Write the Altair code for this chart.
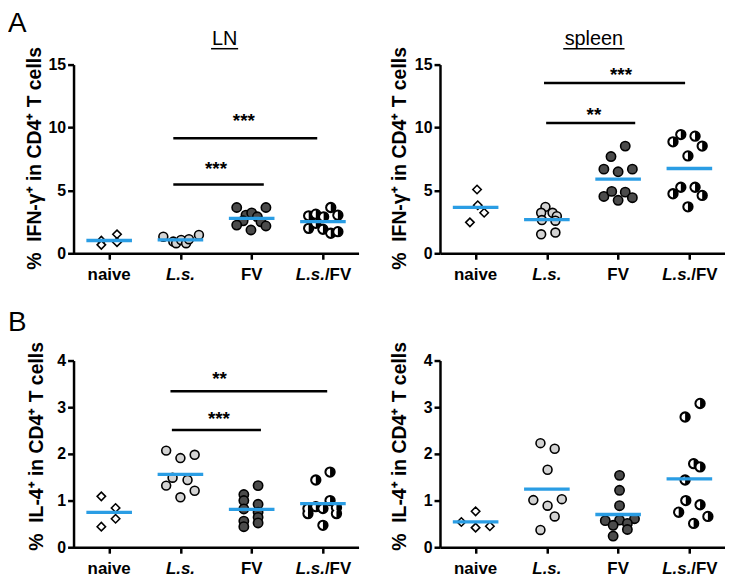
import altair as alt
import pandas as pd

FONT = "Liberation Sans"
BLUE = "#2a9de4"
GROUPS = ["naive", "L.s.", "FV", "L.s./FV"]
FILLS = ["white", "#d3d3d3", "#4b4b4b", "black"]
SHAPES = ["diamond", "circle", "circle", "circle"]
SIZES = [72, 96, 96, 96]

# ---- Panel A, LN: % IFN-g+ ----
A_LN_NAIVE = [1.00, 0.67, 1.51, 0.88]
A_LN_NAIVE_DX = [-0.11, -0.11, 0.11, 0.11]
A_LN_LS = [1.32, 0.93, 0.80, 1.06, 0.80, 1.12, 1.46]
A_LN_LS_DX = [-0.24, -0.10, -0.06, 0.01, 0.08, 0.12, 0.26]
A_LN_FV = [3.64, 3.64, 3.03, 3.21, 2.90, 2.58, 2.50, 2.24, 1.85, 2.17]
A_LN_FV_DX = [-0.21, 0.20, -0.08, 0.00, 0.08, -0.12, 0.13, -0.21, -0.01, 0.20]
A_LN_LSFV = [2.98, 3.11, 3.64, 3.03, 2.90, 1.98, 1.91, 1.59, 1.72, 2.38]
A_LN_LSFV_DX = [-0.20, -0.10, 0.11, 0.21, 0.01, -0.20, 0.00, 0.11, 0.21, -0.10]

# ---- Panel A, spleen ----
A_SP_NAIVE = [5.07, 3.82, 3.22, 2.46]
A_SP_NAIVE_DX = [0.02, 0.03, 0.12, -0.08]
A_SP_LS = [3.69, 3.22, 3.22, 2.95, 2.64, 2.59, 1.51, 1.65]
A_SP_LS_DX = [-0.02, -0.08, 0.08, 0.14, -0.07, 0.12, -0.08, 0.12]
A_SP_FV = [8.52, 7.69, 6.69, 6.48, 6.69, 4.52, 4.92, 4.21, 4.86, 4.42]
A_SP_FV_DX = [0.10, -0.10, -0.20, 0.00, 0.20, -0.20, -0.09, 0.00, 0.10, 0.20]
A_SP_LSFV = [8.86, 9.44, 9.31, 8.52, 7.74, 4.73, 5.25, 5.25, 4.60, 3.69]
A_SP_LSFV_DX = [-0.23, -0.12, 0.08, 0.18, -0.02, -0.23, -0.12, 0.08, 0.18, -0.02]

# ---- Panel B, LN: % IL-4+ ----
B_LN_NAIVE = [1.09, 0.84, 0.61, 0.44]
B_LN_NAIVE_DX = [-0.11, 0.09, 0.09, -0.11]
B_LN_LS = [2.07, 1.91, 1.98, 1.49, 1.44, 1.32, 1.21, 1.07]
B_LN_LS_DX = [-0.20, 0.00, 0.20, -0.11, 0.10, -0.20, 0.20, 0.00]
B_LN_FV = [1.13, 1.00, 0.82, 0.56, 0.44, 1.32, 0.92, 0.75, 0.64, 0.52]
B_LN_FV_DX = [-0.11, -0.11, -0.11, -0.11, -0.11, 0.09, 0.09, 0.09, 0.09, 0.09]
B_LN_LSFV = [1.44, 1.61, 0.83, 0.87, 0.83, 1.00, 0.85, 0.72, 0.72, 0.47]
B_LN_LSFV_DX = [-0.10, 0.10, -0.21, -0.10, 0.00, 0.10, 0.19, -0.21, 0.19, 0.00]

# ---- Panel B, spleen ----
B_SP_NAIVE = [0.54, 0.77, 0.42, 0.45]
B_SP_NAIVE_DX = [-0.20, 0.00, 0.00, 0.20]
B_SP_LS = [2.23, 2.11, 1.66, 1.01, 1.03, 0.89, 0.66, 0.37]
B_SP_LS_DX = [-0.09, 0.11, 0.01, -0.19, 0.21, 0.01, 0.11, -0.09]
B_SP_FV = [1.54, 1.22, 0.89, 0.57, 0.58, 0.61, 0.47, 0.51, 0.38, 0.24]
B_SP_FV_DX = [0.02, 0.02, 0.02, -0.18, 0.02, 0.23, -0.07, 0.13, 0.13, -0.07]
B_SP_LSFV = [3.08, 2.79, 1.79, 1.72, 1.44, 1.00, 0.91, 0.75, 0.66, 0.51]
B_SP_LSFV_DX = [0.15, -0.06, 0.06, 0.15, -0.06, -0.05, 0.15, -0.15, 0.26, 0.06]

# ---- significance bars: start, end (group index units), height, star text, star x, star y ----
A_LN_BARS = dict(x1=[0.90, 0.90], x2=[2.17, 2.92], y=[5.47, 9.15],
                 t=["***", "***"], tx=[1.50, 1.89], ty=[7.1, 10.9])
A_SP_BARS = dict(x1=[0.99, 0.96], x2=[2.24, 2.94], y=[10.35, 13.54],
                 t=["**", "***"], tx=[1.66, 2.04], ty=[11.4, 14.6])
B_LN_BARS = dict(x1=[0.88, 0.86], x2=[2.13, 3.06], y=[2.51, 3.34],
                 t=["***", "**"], tx=[1.54, 1.55], ty=[2.86, 3.70])

Y_TITLE_IFN = "%\u00a0\u00a0IFN-\u03b3\u207a in CD4\u207a T cells"
Y_TITLE_IL4 = "%\u00a0\u00a0IL-4\u207a in CD4\u207a T cells"

W = 287
H_TOP = 190
H_BOT = 188


def points_df(series):
    rows = []
    for gi, (vals, offs) in enumerate(series):
        for v, o in zip(vals, offs):
            rows.append({"grp": GROUPS[gi], "idx": gi, "x": gi + o, "value": v})
    return pd.DataFrame(rows)


def panel(series, ymax, yticks, ytitle, H, title_x, title_y, bars=None,
          title=None, title_pos=None, underline=None, letter=None):
    df = points_df(series)
    xs = alt.Scale(domain=[-0.5, 3.5], nice=False, zero=False)
    ys = alt.Scale(domain=[0, ymax], nice=False, zero=True)
    xaxis = alt.Axis(values=[0, 1, 2, 3], labels=False, title=None, grid=False,
                     domainWidth=2.5, domainColor="black", tickColor="black",
                     tickWidth=2.5, tickSize=6)
    yaxis = alt.Axis(values=yticks, title=ytitle, grid=False,
                     domainWidth=2.5, domainColor="black", tickColor="black",
                     tickWidth=2.5, tickSize=6, labelFont=FONT, labelFontSize=16,
                     labelFontWeight="bold", labelColor="black", labelPadding=2,
                     titleFont=FONT, titleFontSize=19.5, titleFontWeight="bold",
                     titleColor="black", titleX=title_x, titleY=title_y,
                     titleBaseline="bottom", titleAngle=270)

    def X(field):
        return alt.X(field, scale=xs, axis=xaxis)

    def Y(field):
        return alt.Y(field, scale=ys, axis=yaxis)

    base = alt.Chart(df)
    layers = []
    pts = base.mark_point(filled=True, stroke="black", strokeWidth=1.6,
                          opacity=1, fillOpacity=1, strokeOpacity=1).encode(
        x=X("x:Q"), y=Y("value:Q"),
        shape=alt.Shape("grp:N", scale=alt.Scale(domain=GROUPS, range=SHAPES), legend=None),
        fill=alt.Fill("grp:N", scale=alt.Scale(domain=GROUPS, range=FILLS), legend=None),
        size=alt.Size("grp:N", scale=alt.Scale(domain=GROUPS, range=SIZES), legend=None),
    )
    layers.append(pts)
    half = base.transform_filter(alt.datum.idx == 3).mark_point(
        shape="M0,-0.74A0.74,0.74,0,0,0,0,0.74Z", filled=True, fill="white",
        strokeWidth=0, size=96, opacity=1).encode(x=X("x:Q"), y=Y("value:Q"))
    layers.append(half)
    mean = base.transform_aggregate(m="mean(value)", groupby=["idx"]).transform_calculate(
        a="datum.idx - 0.32", b="datum.idx + 0.32").mark_rule(
        color=BLUE, strokeWidth=3.3).encode(x=X("a:Q"), x2="b:Q", y=Y("m:Q"))
    layers.append(mean)
    if bars:
        bdf = pd.DataFrame({"x1": bars["x1"], "x2": bars["x2"], "y": bars["y"]})
        layers.append(alt.Chart(bdf).mark_rule(color="black", strokeWidth=2.5).encode(
            x=X("x1:Q"), x2="x2:Q", y=Y("y:Q")))
        sdf = pd.DataFrame({"tx": bars["tx"], "ty": bars["ty"], "t": bars["t"]})
        layers.append(alt.Chart(sdf).mark_text(font=FONT, fontSize=19, fontWeight="bold",
                                               baseline="middle", dy=5, color="black").encode(
            x=X("tx:Q"), y=Y("ty:Q"), text="t:N"))
    # x tick labels
    label_parts = [(0, "naive", "normal", "center", 0), (1, "L.s.", "italic", "center", 0),
                   (2, "FV", "normal", "center", 0), (3, "L.s.", "italic", "right", 2),
                   (3, "/FV", "normal", "left", 2)]
    for i, txt, style, al, dx in label_parts:
        ldf = pd.DataFrame({"x": [i], "t": [txt]})
        layers.append(alt.Chart(ldf).mark_text(font=FONT, fontSize=17, fontWeight="bold",
                                               fontStyle=style, align=al, dx=dx,
                                               baseline="alphabetic", color="black").encode(
            x=X("x:Q"), y=alt.value(H + 27), text="t:N"))
    if title:
        tdf = pd.DataFrame({"x": [title_pos], "t": [title]})
        layers.append(alt.Chart(tdf).mark_text(font=FONT, fontSize=20, baseline="alphabetic",
                                               color="black").encode(
            x=X("x:Q"), y=alt.value(-20), text="t:N"))
        udf = pd.DataFrame({"a": [underline[0]], "b": [underline[1]]})
        layers.append(alt.Chart(udf).mark_rule(color="black", strokeWidth=1.5).encode(
            x=X("a:Q"), x2="b:Q", y=alt.value(-16)))
    if letter:
        ldf = pd.DataFrame({"t": [letter]})
        layers.append(alt.Chart(ldf).mark_text(font=FONT, fontSize=28, align="left",
                                               baseline="alphabetic", color="black").encode(
            x=alt.value(-66), y=alt.value(-33 if letter == "A" else -30), text="t:N"))
    return alt.layer(*layers).properties(width=W, height=H)


p1 = panel([(A_LN_NAIVE, A_LN_NAIVE_DX), (A_LN_LS, A_LN_LS_DX), (A_LN_FV, A_LN_FV_DX),
            (A_LN_LSFV, A_LN_LSFV_DX)], 15, [0, 5, 10, 15], Y_TITLE_IFN, H_TOP,
           -29, H_TOP / 2 - 1, bars=A_LN_BARS, title="LN", title_pos=1.62,
           underline=(1.43, 1.81), letter="A")
p2 = panel([(A_SP_NAIVE, A_SP_NAIVE_DX), (A_SP_LS, A_SP_LS_DX), (A_SP_FV, A_SP_FV_DX),
            (A_SP_LSFV, A_SP_LSFV_DX)], 15, [0, 5, 10, 15], Y_TITLE_IFN, H_TOP,
           -31, H_TOP / 2 - 1, bars=A_SP_BARS, title="spleen", title_pos=1.66,
           underline=(1.23, 2.09))
p3 = panel([(B_LN_NAIVE, B_LN_NAIVE_DX), (B_LN_LS, B_LN_LS_DX), (B_LN_FV, B_LN_FV_DX),
            (B_LN_LSFV, B_LN_LSFV_DX)], 4, [0, 1, 2, 3, 4], Y_TITLE_IL4, H_BOT,
           -27, H_BOT / 2 - 8, bars=B_LN_BARS, letter="B")
p4 = panel([(B_SP_NAIVE, B_SP_NAIVE_DX), (B_SP_LS, B_SP_LS_DX), (B_SP_FV, B_SP_FV_DX),
            (B_SP_LSFV, B_SP_LSFV_DX)], 4, [0, 1, 2, 3, 4], Y_TITLE_IL4, H_BOT,
           -31, H_BOT / 2 - 8)

chart = alt.concat(p1, p2, p3, p4, columns=2,
                   spacing={"row": 26, "column": 30}).properties(
    padding={"left": 0, "top": 0, "right": 0, "bottom": 0}).configure_view(stroke=None)

chart.save("out.html", embed_options={"renderer": "svg", "actions": False})
